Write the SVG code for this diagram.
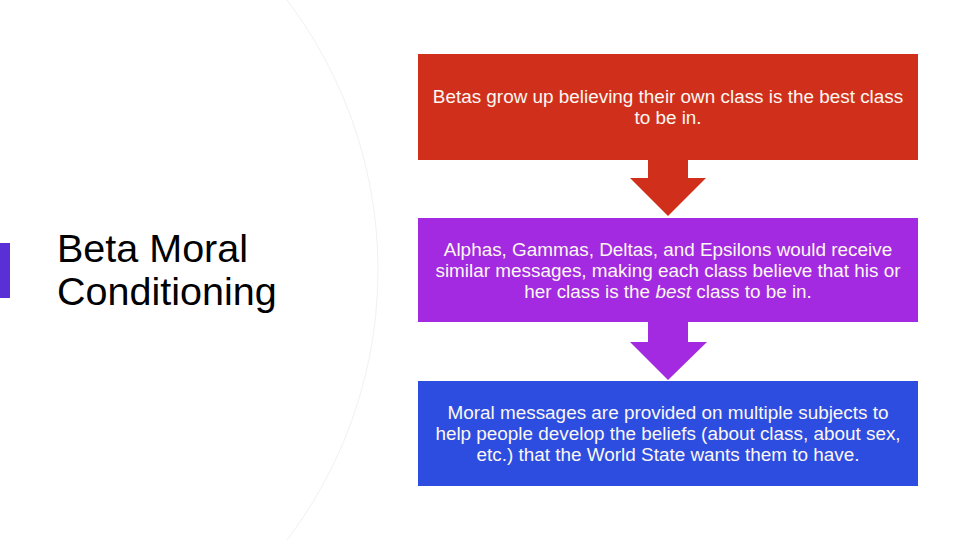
<svg xmlns="http://www.w3.org/2000/svg" width="960" height="540" viewBox="0 0 960 540">
<style>
.t{font-family:"Liberation Sans",Arial,sans-serif;font-size:18.9px;fill:#fbf7f2;text-anchor:middle}
.title{font-family:"Liberation Sans",Arial,sans-serif;font-size:39.5px;fill:#000}
</style>
<rect width="960" height="540" fill="#fff"/>
<circle cx="-68" cy="270" r="446" fill="none" stroke="#f1f1f1" stroke-width="1"/>
<rect x="0" y="243" width="10" height="55" fill="#5a2fd6"/>
<g id="title">
<text class="title" x="57" y="262">Beta Moral</text>
<text class="title" x="57" y="305">Conditioning</text>
</g>
<g id="connectors">
<polygon points="648,158 688,158 688,178 706,178 668,216 630,178 648,178" fill="#d0301b"/>
<polygon points="648,320 688,320 688,342 707,342 668,380 630,342 648,342" fill="#a32ae0"/>
</g>
<g id="node1">
<rect x="418" y="54" width="500" height="106" fill="#d0301b"/>
<text class="t" x="668" y="103">Betas grow up believing their own class is the best class</text>
<text class="t" x="668" y="124">to be in.</text>
</g>
<g id="node2">
<rect x="418" y="218" width="500" height="104" fill="#a32ae0"/>
<text class="t" x="668" y="256">Alphas, Gammas, Deltas, and Epsilons would receive</text>
<text class="t" x="668" y="277">similar messages, making each class believe that his or</text>
<text class="t" x="668" y="298">her class is the <tspan font-style="italic">best</tspan> class to be in.</text>
</g>
<g id="node3">
<rect x="418" y="381" width="500" height="105" fill="#2d4de0"/>
<text class="t" x="668" y="419">Moral messages are provided on multiple subjects to</text>
<text class="t" x="668" y="440">help people develop the beliefs (about class, about sex,</text>
<text class="t" x="668" y="461">etc.) that the World State wants them to have.</text>
</g>
</svg>
